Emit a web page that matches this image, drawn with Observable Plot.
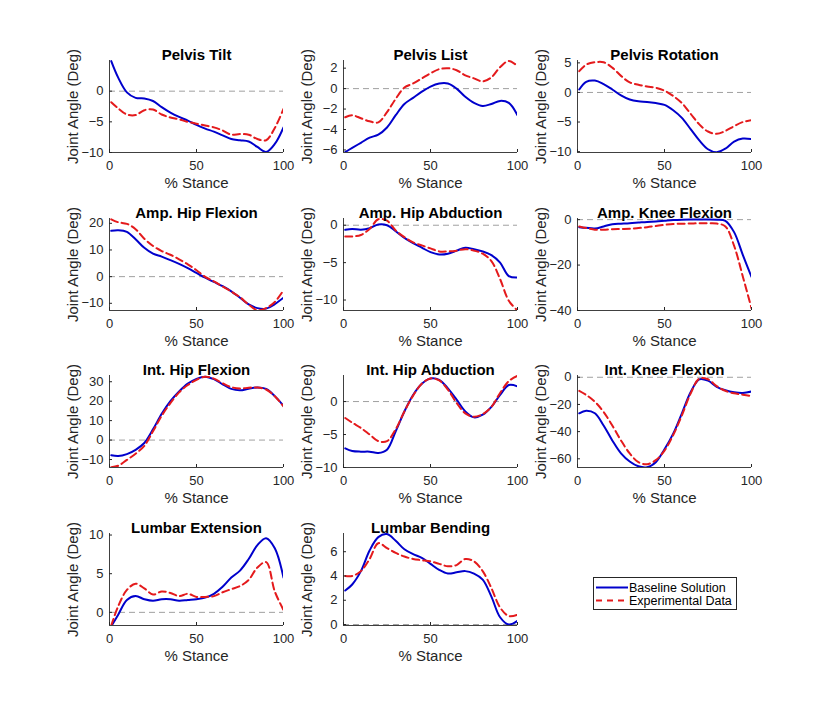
<!DOCTYPE html>
<html><head><meta charset="utf-8">
<script src="https://cdn.jsdelivr.net/npm/d3@7"></script>
<script src="https://cdn.jsdelivr.net/npm/@observablehq/plot@0.6"></script>
<style>
body{margin:0;background:#fff;}
#chart{position:relative;width:832px;height:720px;background:#fff;overflow:hidden;font-family:"Liberation Sans",Arial,sans-serif;}
#chart .panel{position:absolute;}
#legend{position:absolute;left:593px;top:577px;width:142px;height:31px;border:1px solid #262626;background:#fff;}
</style></head><body><div id="chart"></div>
<script>
// % stance sample positions
const stance = [1,5,10,15,20,25,30,35,40,45,50,55,60,65,70,75,80,85,90,95,100];
const xTicks = [0,50,100];
const seriesNames = ["Baseline Solution","Experimental Data"];
const panelTitles = ["Pelvis Tilt","Pelvis List","Pelvis Rotation","Amp. Hip Flexion","Amp. Hip Abduction","Amp. Knee Flexion","Int. Hip Flexion","Int. Hip Abduction","Int. Knee Flexion","Lumbar Extension","Lumbar Bending"];

const pelvisTiltBase = [4.9,2.2,-0.2,-1.1,-1.2,-1.6,-2.6,-3.5,-4.2,-4.8,-5.5,-6.1,-6.6,-7.2,-7.8,-8.0,-8.2,-9.1,-9.9,-8.6,-5.9];
const pelvisTiltExp  = [-1.8,-2.8,-3.8,-3.9,-3.1,-3.0,-3.8,-4.3,-4.6,-5.0,-5.3,-5.6,-5.9,-6.4,-7.1,-7.0,-7.1,-7.8,-8.0,-6.0,-2.9];
const pelvisListBase = [-6.2,-5.8,-5.3,-4.8,-4.5,-3.8,-2.6,-1.5,-0.9,-0.3,0.2,0.5,0.5,0.0,-0.8,-1.4,-1.7,-1.5,-1.2,-1.4,-2.6];
const pelvisListExp  = [-2.8,-2.6,-2.9,-3.2,-3.3,-2.3,-1.0,0.1,0.5,1.0,1.5,1.9,2.0,1.8,1.3,1.0,0.7,1.1,2.1,2.7,2.2];
const pelvisRotBase  = [0.5,1.8,2.0,1.4,0.5,-0.5,-1.2,-1.5,-1.6,-1.8,-2.1,-3.0,-4.3,-6.2,-8.1,-9.6,-10.1,-9.5,-8.3,-7.8,-7.9];
const pelvisRotExp   = [3.6,4.7,5.1,5.1,4.2,2.8,1.7,1.3,1.0,0.8,0.3,-0.6,-1.8,-3.6,-5.4,-6.6,-7.0,-6.5,-5.7,-5.0,-4.7];
const ampHipFlexBase = [17.2,17.4,16.8,14.0,10.8,8.6,7.5,6.2,4.8,3.2,1.4,-0.4,-2.0,-3.6,-5.5,-7.9,-10.4,-11.8,-12.0,-10.3,-7.9];
const ampHipFlexExp  = [21.5,20.4,19.8,17.8,14.2,11.5,9.6,8.2,6.5,4.6,2.4,-0.1,-1.8,-3.7,-5.6,-7.7,-10.5,-12.6,-11.8,-9.5,-5.1];
const ampHipAbdBase  = [-0.6,-0.5,-0.6,-0.4,0.1,0.0,-0.8,-1.7,-2.4,-3.0,-3.6,-3.9,-3.8,-3.4,-3.0,-3.2,-3.5,-4.0,-5.0,-6.8,-7.0];
const ampHipAbdExp   = [-1.5,-1.5,-1.3,-0.5,0.8,0.6,-0.7,-1.6,-2.3,-2.7,-3.1,-3.5,-3.5,-3.4,-3.2,-3.4,-3.8,-4.8,-7.2,-10.1,-11.4];
const ampKneeFlexBase= [-3.3,-3.6,-3.9,-3.0,-2.0,-1.8,-1.6,-1.3,-1.0,-0.8,-0.5,-0.2,0.0,0.1,0.1,0.1,0.0,-0.5,-5.5,-15.5,-25.2];
const ampKneeFlexExp = [-3.0,-3.7,-4.4,-4.4,-4.2,-4.1,-4.0,-3.7,-3.3,-2.8,-2.3,-1.9,-1.8,-1.7,-1.6,-1.6,-1.7,-3.0,-11.5,-25.0,-39.0];
const intHipFlexBase = [-7.8,-8.2,-7.2,-5.0,-1.5,5.5,13.5,20.0,25.0,29.0,31.5,32.6,31.3,28.7,26.3,25.6,26.4,27.0,26.3,22.6,17.6];
const intHipFlexExp  = [-14.0,-13.2,-10.2,-7.0,-3.0,4.5,12.5,19.0,24.5,28.3,31.0,32.6,31.6,29.2,27.2,26.5,26.9,27.0,26.0,22.5,17.3];
const intHipAbdBase  = [-7.1,-7.5,-7.6,-7.6,-7.8,-7.3,-4.5,-1.5,1.0,2.7,3.5,3.3,2.0,0.3,-1.5,-2.4,-2.0,-0.8,1.0,2.5,2.3];
const intHipAbdExp   = [-2.5,-3.2,-4.0,-5.0,-6.0,-6.0,-4.2,-1.5,0.9,2.7,3.5,3.2,1.8,-0.2,-1.8,-2.3,-1.9,-0.8,1.3,3.1,3.9];
const intKneeFlexBase= [-26.5,-24.6,-26.5,-35.5,-46.5,-56.0,-62.0,-65.5,-66.2,-62.5,-53.0,-41.5,-26.5,-11.0,-1.5,-2.5,-7.0,-9.5,-11.0,-11.5,-10.5];
const intKneeFlexExp = [-10.0,-13.0,-18.0,-25.5,-35.5,-46.5,-56.0,-62.5,-64.0,-61.0,-54.0,-42.5,-28.0,-12.0,-1.0,-1.5,-6.5,-10.0,-11.8,-12.8,-13.8];
const lumbarExtBase  = [-1.8,-0.3,1.6,2.1,1.7,1.5,1.7,1.7,1.5,1.6,1.7,1.9,2.4,3.3,4.5,5.4,6.9,8.7,9.6,8.3,4.5];
const lumbarExtExp   = [-1.7,0.8,2.9,3.7,3.1,2.3,2.7,2.5,2.1,2.4,2.0,2.0,2.1,2.6,3.0,3.4,4.2,5.8,6.5,2.7,0.3];
const lumbarBendBase = [2.8,3.3,4.4,6.1,7.2,7.45,6.9,6.2,5.8,5.5,5.0,4.5,4.2,4.3,4.4,4.2,3.7,2.3,0.6,0.0,0.3];
const lumbarBendExp  = [4.0,4.0,4.4,5.4,6.7,6.3,5.9,5.6,5.4,5.3,5.2,5.0,4.8,4.9,5.4,5.2,4.4,3.0,1.4,0.7,0.8];

const yTickSets = [[-10,-5,0],[-6,-4,-2,0,2],[-10,-5,0,5],[-10,0,10,20],[-10,-5,0],[-40,-20,0],[-10,0,10,20,30],[-10,-5,0],[-60,-40,-20,0],[0,5,10],[0,2,4,6]];
const yDomains = [[-10,5],[-6.25,2.75],[-10.15,5.4],[-12.7,21.8],[-11.4,0.9],[-40,0.5],[-14.1,33.2],[-10,3.95],[-66.4,1.3],[-1.7,10.2],[-0.08,7.5]];

const baseSeries = [pelvisTiltBase,pelvisListBase,pelvisRotBase,ampHipFlexBase,ampHipAbdBase,ampKneeFlexBase,intHipFlexBase,intHipAbdBase,intKneeFlexBase,lumbarExtBase,lumbarBendBase];
const expSeries  = [pelvisTiltExp,pelvisListExp,pelvisRotExp,ampHipFlexExp,ampHipAbdExp,ampKneeFlexExp,intHipFlexExp,intHipAbdExp,intKneeFlexExp,lumbarExtExp,lumbarBendExp];

const BLUE = "#0000cc", RED = "#e41a1c", AXIS = "#404040", TXT = "#262626";
const colLeft = [109,343,577];
const rowTop = [60,217.7,375.4,533.1];
const PW = 174, PH = 92, ML = 50, MR = 12, MT = 30, MB = 45;

const chart = document.getElementById("chart");

panelTitles.forEach((title, i) => {
  const col = i % 3, row = Math.floor(i / 3);
  const base = stance.map((x, j) => ({x, y: baseSeries[i][j]}));
  const exp = stance.map((x, j) => ({x, y: expSeries[i][j]}));
  const yd = yDomains[i];
  const svg = Plot.plot({
    width: PW + ML + MR, height: PH + MT + MB,
    marginLeft: ML, marginRight: MR, marginTop: MT, marginBottom: MB,
    style: {fontFamily: "Liberation Sans, Arial, sans-serif", fontSize: "13px", background: "transparent", overflow: "visible"},
    x: {domain: [0, 100]},
    y: {domain: yd},
    marks: [
      Plot.ruleY([0], {stroke: "#a0a0a0", strokeWidth: 1, strokeDasharray: "6,4"}),
      Plot.line(base, {x: "x", y: "y", stroke: BLUE, strokeWidth: 2, curve: "catmull-rom", clip: true}),
      Plot.line(exp, {x: "x", y: "y", stroke: RED, strokeWidth: 2, strokeDasharray: "7,4", curve: "catmull-rom", clip: true}),
      Plot.ruleX([0], {stroke: AXIS, strokeWidth: 1}),
      Plot.ruleY([yd[0]], {stroke: AXIS, strokeWidth: 1}),
      Plot.axisX({ticks: xTicks, tickSize: -3, tickPadding: 11, fontSize: 13, color: TXT, label: null}),
      Plot.axisY({ticks: yTickSets[i], tickSize: -3, tickPadding: 9, fontSize: 13, color: TXT, label: null}),
      Plot.text([title], {text: d => d, frameAnchor: "top", dy: -11, fontSize: 15, fontWeight: "bold", fill: "black"}),
      Plot.text(["% Stance"], {text: d => d, frameAnchor: "bottom", dy: 35, fontSize: 15, fill: TXT}),
      Plot.text(["Joint Angle (Deg)"], {text: d => d, frameAnchor: "left", textAnchor: "middle", dx: -36, rotate: -90, fontSize: 15, fill: TXT})
    ]
  });
  svg.classList.add("panel");
  svg.style.left = (colLeft[col] - ML) + "px";
  svg.style.top = (rowTop[row] - MT) + "px";
  chart.appendChild(svg);
});

// legend
const legend = document.createElement("div");
legend.id = "legend";
legend.innerHTML = `<svg width="142" height="31" style="display:block;font-family:'Liberation Sans',Arial,sans-serif;font-size:12.5px">
  <line x1="2" x2="34" y1="9.5" y2="9.5" stroke="${BLUE}" stroke-width="2"/>
  <text x="35" y="13.5" fill="#000">${seriesNames[0]}</text>
  <line x1="2" x2="34" y1="22.5" y2="22.5" stroke="${RED}" stroke-width="2" stroke-dasharray="6,5"/>
  <text x="35" y="26.5" fill="#000">${seriesNames[1]}</text>
</svg>`;
chart.appendChild(legend);
</script>
</body></html>
